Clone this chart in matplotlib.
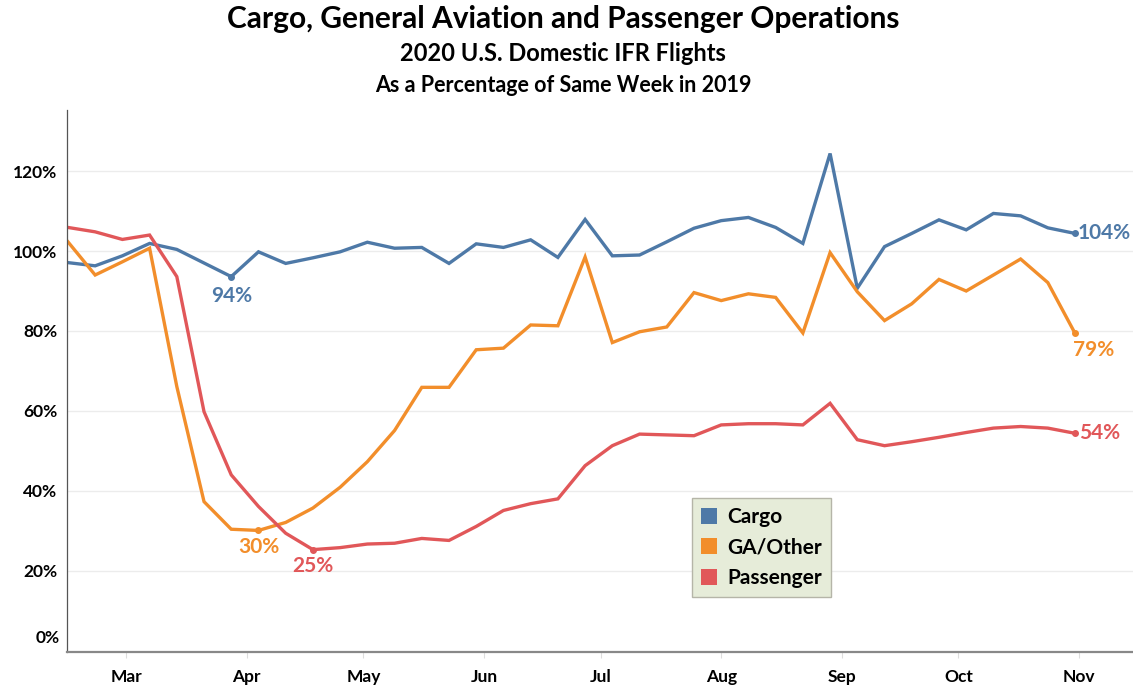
import numpy as np
import pandas as pd
import matplotlib
matplotlib.use("Agg")
import matplotlib.pyplot as plt
import matplotlib.dates as mdates
from matplotlib.patches import Patch

# weekly points, first week starting 2020-02-15
weeks = pd.date_range("2020-02-15", periods=38, freq="7D")

cargo = [97.1, 96.3, 98.8, 101.9, 100.4, 97.0, 93.6, 99.8, 96.9, 98.3,
         99.8, 102.2, 100.7, 100.9, 96.9, 101.8, 100.9, 102.8, 98.4, 107.9,
         98.8, 99.0, 102.3, 105.7, 107.6, 108.4, 105.9, 101.9, 124.4, 90.7,
         101.1, 104.4, 107.8, 105.3, 109.4, 108.8, 105.8, 104.4]
ga_other = [102.3, 94.0, 97.3, 100.7, 66.1, 37.3, 30.4, 30.1, 32.1, 35.7,
            40.9, 47.3, 55.1, 65.9, 65.9, 75.3, 75.7, 81.5, 81.3, 98.5,
            77.1, 79.8, 81.0, 89.6, 87.6, 89.3, 88.4, 79.5, 99.6, 89.8,
            82.6, 86.8, 92.9, 90.0, 94.0, 98.0, 92.1, 79.4]
passenger = [105.9, 104.8, 102.9, 104.0, 93.6, 59.8, 44.0, 36.1, 29.4, 25.3,
             25.8, 26.7, 26.9, 28.1, 27.6, 31.1, 35.1, 36.8, 38.0, 46.3,
             51.3, 54.2, 54.0, 53.8, 56.5, 56.8, 56.8, 56.5, 61.9, 52.8,
             51.3, 52.3, 53.4, 54.6, 55.7, 56.1, 55.7, 54.4]

series_names = ["Cargo", "GA/Other", "Passenger"]
colors = {"Cargo": "#4e79a7", "GA/Other": "#f28e2b", "Passenger": "#e15759"}

# labelled points: (series, week index, text, dx px, dy px, ha, va)
callouts = [
    ("Cargo", 6, "94%", 0, -9, "center", "top"),
    ("Cargo", 37, "104%", 3, 0, "left", "center"),
    ("GA/Other", 7, "30%", 0, -7, "center", "top"),
    ("GA/Other", 37, "79%", -2, -7, "left", "top"),
    ("Passenger", 9, "25%", 0, -6, "center", "top"),
    ("Passenger", 37, "54%", 4, 0, "left", "center"),
]

plt.rcParams["font.family"] = ["Lato", "DejaVu Sans"]

fig = plt.figure(figsize=(11.33, 6.87), dpi=100)
ax = fig.add_axes([0.0591, 0.051, 0.9409, 0.789])

data = {"Cargo": cargo, "GA/Other": ga_other, "Passenger": passenger}
for name in series_names:
    ax.plot(weeks, data[name], color=colors[name], lw=2.4, solid_joinstyle="miter")

for name, idx, txt, dx, dy, ha, va in callouts:
    ax.plot(weeks[idx], data[name][idx], "o", color=colors[name], ms=4)
    ax.annotate(txt, (weeks[idx], data[name][idx]), xytext=(dx, dy),
                textcoords="offset pixels", ha=ha, va=va,
                color=colors[name], fontsize=15, fontweight="bold")

start = weeks[0]
ax.set_xlim(start - pd.Timedelta(hours=6), start + pd.Timedelta(days=273.9))
ax.set_ylim(-0.3, 135.3)

ax.xaxis.set_major_locator(mdates.MonthLocator())
ax.xaxis.set_major_formatter(mdates.DateFormatter("%b"))
ax.set_yticks([20, 40, 60, 80, 100, 120])
ax.set_yticklabels(["20%", "40%", "60%", "80%", "100%", "120%"])
ax.text(-0.007, 3.3, "0%", transform=ax.get_yaxis_transform(), ha="right",
        va="center", fontsize=12.5, fontweight="bold")

ax.tick_params(axis="y", length=0, pad=7, labelsize=12.5)
ax.tick_params(axis="x", length=4, color="#dddddd", pad=8, labelsize=12.5)
for lbl in ax.get_xticklabels() + ax.get_yticklabels():
    lbl.set_fontweight("bold")

ax.grid(axis="y", color="#ececec", lw=1)
ax.set_axisbelow(True)
for s in ["top", "right"]:
    ax.spines[s].set_visible(False)
ax.spines["left"].set_color("#555555")
ax.spines["left"].set_linewidth(0.9)
ax.spines["bottom"].set_color("#888888")
ax.spines["bottom"].set_linewidth(1.6)

handles = [Patch(facecolor=colors[n], edgecolor="none", label=n) for n in series_names]
leg = ax.legend(handles=handles, loc="lower left", bbox_to_anchor=(0.586, 0.101),
                frameon=True, fancybox=False, handlelength=0.75, handleheight=0.8,
                handletextpad=0.5, labelspacing=0.5, borderpad=0.45,
                borderaxespad=0, prop={"weight": "bold", "size": 15})
leg.get_frame().set_facecolor("#e6ecd9")
leg.get_frame().set_edgecolor("#b5b5a8")
leg.get_frame().set_alpha(1)

fig.text(0.497, 0.972, "Cargo, General Aviation and Passenger Operations",
         ha="center", va="center", fontsize=21.5, fontweight="bold")
fig.text(0.497, 0.922, "2020 U.S. Domestic IFR Flights",
         ha="center", va="center", fontsize=17, fontweight="bold")
fig.text(0.497, 0.876, "As a Percentage of Same Week in 2019",
         ha="center", va="center", fontsize=15.5, fontweight="bold")

fig.savefig("out.png", dpi=100)
